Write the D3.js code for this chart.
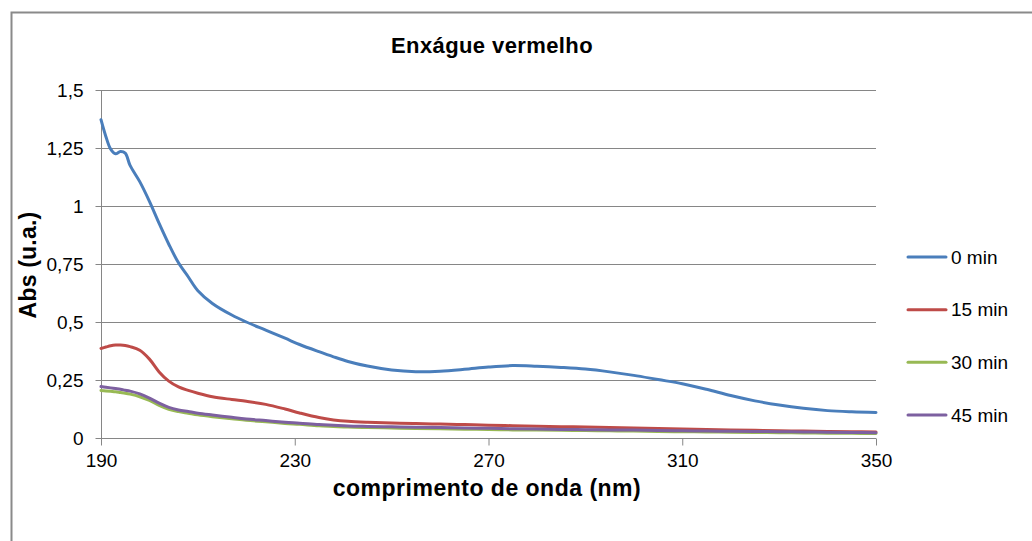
<!DOCTYPE html>
<html>
<head>
<meta charset="utf-8">
<script src="https://cdn.jsdelivr.net/npm/d3@7"></script>
<style>
  html, body { margin: 0; padding: 0; background: #fff; }
  svg { display: block; font-family: "Liberation Sans", Arial, sans-serif; }
</style>
</head>
<body>
<svg id="chart" width="1032" height="541"></svg>
<script>
// ---- data ----
const title = "Enxágue vermelho";
const xTitle = "comprimento de onda (nm)";
const yTitle = "Abs (u.a.)";
const seriesNames = ["0 min", "15 min", "30 min", "45 min"];
const seriesColors = ["#4A7EBB", "#BE4B48", "#98B954", "#7D60A0"];
const xTicks = [190, 230, 270, 310, 350];
const yTicks = [0, 0.25, 0.5, 0.75, 1, 1.25, 1.5];
const yTickLabels = ["0", "0,25", "0,5", "0,75", "1", "1,25", "1,5"];

const wavelength = [190,191,192,193,194,195,196,198,200,202,204,206,208,210,213,217,220,224,228,231,235,238,241,245,250,255,260,265,270,275,280,285,290,295,300,305,310,315,320,325,330,335,340,345,350];

const abs0 = [1.372,1.300,1.245,1.225,1.235,1.228,1.175,1.105,1.020,0.925,0.835,0.755,0.695,0.635,0.580,0.530,0.500,0.465,0.430,0.403,0.372,0.350,0.330,0.310,0.293,0.286,0.288,0.296,0.306,0.312,0.309,0.304,0.297,0.285,0.270,0.252,0.234,0.210,0.183,0.160,0.142,0.128,0.118,0.113,0.110];
const abs15 = [0.386,0.392,0.398,0.401,0.401,0.399,0.394,0.378,0.340,0.285,0.245,0.220,0.205,0.193,0.178,0.166,0.158,0.145,0.125,0.108,0.088,0.078,0.072,0.068,0.065,0.062,0.060,0.058,0.055,0.053,0.051,0.049,0.047,0.045,0.043,0.041,0.039,0.037,0.035,0.033,0.031,0.030,0.028,0.027,0.026];
const abs30 = [0.205,0.203,0.201,0.199,0.196,0.193,0.189,0.178,0.162,0.141,0.124,0.114,0.107,0.100,0.092,0.083,0.076,0.070,0.063,0.059,0.053,0.050,0.047,0.045,0.043,0.041,0.040,0.038,0.037,0.035,0.034,0.033,0.032,0.031,0.030,0.028,0.027,0.026,0.025,0.024,0.023,0.022,0.021,0.020,0.019];
const abs45 = [0.222,0.219,0.216,0.213,0.210,0.206,0.202,0.190,0.172,0.150,0.132,0.121,0.114,0.107,0.099,0.089,0.082,0.075,0.068,0.064,0.058,0.055,0.052,0.050,0.048,0.046,0.045,0.043,0.042,0.040,0.039,0.037,0.036,0.035,0.034,0.032,0.031,0.030,0.029,0.028,0.027,0.026,0.025,0.024,0.023];

const seriesValues = [abs0, abs15, abs30, abs45];

// ---- layout ----
const svg = d3.select("#chart");
const plot = { left: 101, right: 876, top: 90, bottom: 438 };
const gridColor = "#868686";

const x = d3.scaleLinear().domain([190, 350]).range([plot.left, plot.right]);
const y = d3.scaleLinear().domain([0, 1.5]).range([plot.bottom, plot.top]);

// outer border (top and left visible)
svg.append("path")
  .attr("d", "M11.5,541 L11.5,12.5 L1032,12.5")
  .attr("fill", "none")
  .attr("stroke", "#8a8a8a")
  .attr("stroke-width", 2);

// gridlines
svg.append("g")
  .selectAll("line")
  .data(yTicks.filter(d => d > 0))
  .join("line")
  .attr("x1", plot.left).attr("x2", plot.right)
  .attr("y1", d => Math.round(y(d)) + 0.5).attr("y2", d => Math.round(y(d)) + 0.5)
  .attr("stroke", gridColor).attr("stroke-width", 1);

// y axis
const yAxis = d3.axisLeft(y)
  .tickValues(yTicks)
  .tickSize(6)
  .tickPadding(12)
  .tickFormat((d, i) => yTickLabels[i]);
const gy = svg.append("g")
  .attr("transform", `translate(${plot.left + 0.5},0)`)
  .call(yAxis);
gy.select(".domain").attr("d", `M0,${plot.top}V${plot.bottom + 7}`).attr("stroke", gridColor);
gy.selectAll(".tick line").attr("stroke", gridColor);
gy.selectAll(".tick text").attr("font-size", 19).attr("fill", "#000")
  .attr("font-family", "'Liberation Sans', Arial, sans-serif");

// x axis
const xAxis = d3.axisBottom(x)
  .tickValues(xTicks)
  .tickSize(7)
  .tickPadding(8)
  .tickFormat(d3.format("d"));
const gx = svg.append("g")
  .attr("transform", `translate(0,${plot.bottom + 0.5})`)
  .call(xAxis);
gx.select(".domain").attr("d", `M${plot.left},0H${plot.right}`).attr("stroke", gridColor);
gx.selectAll(".tick line").attr("stroke", gridColor);
gx.selectAll(".tick text").attr("font-size", 19).attr("fill", "#000")
  .attr("font-family", "'Liberation Sans', Arial, sans-serif");

// lines
const line = d3.line()
  .x((d, i) => x(wavelength[i]))
  .y(d => y(d))
  .curve(d3.curveCatmullRom.alpha(0.5));

svg.append("g")
  .selectAll("path")
  .data(seriesValues)
  .join("path")
  .attr("d", d => line(d))
  .attr("fill", "none")
  .attr("stroke", (d, i) => seriesColors[i])
  .attr("stroke-width", 3)
  .attr("stroke-linejoin", "round")
  .attr("stroke-linecap", "round");

// title
svg.append("text")
  .attr("x", 492).attr("y", 53)
  .attr("text-anchor", "middle")
  .attr("font-size", 22).attr("font-weight", "bold")
  .attr("letter-spacing", 0.4)
  .text(title);

// axis titles
svg.append("text")
  .attr("x", 487).attr("y", 496)
  .attr("text-anchor", "middle")
  .attr("font-size", 23).attr("font-weight", "bold")
  .attr("letter-spacing", 0.5)
  .text(xTitle);

svg.append("text")
  .attr("transform", "translate(36,265) rotate(-90)")
  .attr("text-anchor", "middle")
  .attr("font-size", 23).attr("font-weight", "bold")
  .attr("letter-spacing", 0.2)
  .text(yTitle);

// legend
const legendY = d3.scalePoint().domain(seriesNames).range([257, 415]);
const lg = svg.append("g").selectAll("g").data(seriesNames).join("g")
  .attr("transform", d => `translate(0,${legendY(d)})`);
lg.append("line")
  .attr("x1", 908).attr("x2", 946)
  .attr("y1", 0).attr("y2", 0)
  .attr("stroke", (d, i) => seriesColors[i])
  .attr("stroke-width", 3)
  .attr("stroke-linecap", "round");
lg.append("text")
  .attr("x", 951).attr("y", 0)
  .attr("dy", "0.35em")
  .attr("font-size", 19)
  .text(d => d);
</script>
</body>
</html>
